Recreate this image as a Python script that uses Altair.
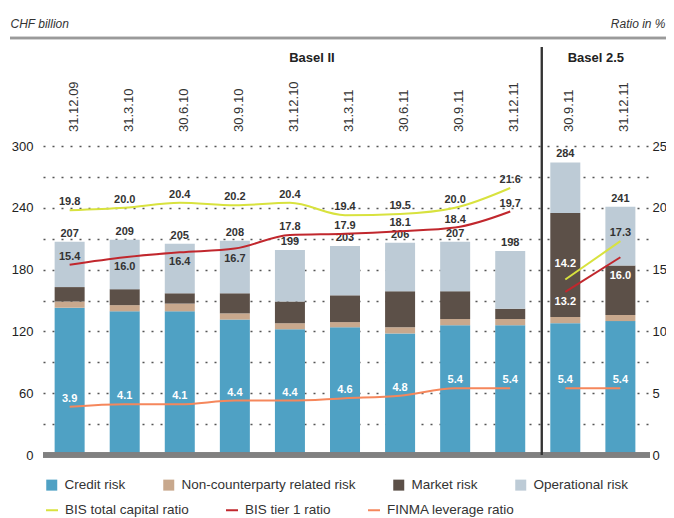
import altair as alt
import pandas as pd

# ---------------- data ----------------
periods = ["31.12.09", "31.3.10", "30.6.10", "30.9.10", "31.12.10", "31.3.11",
           "30.6.11", "30.9.11", "31.12.11", "30.9.11", "31.12.11"]
regimes = ["Basel II"] * 9 + ["Basel 2.5"] * 2

credit_risk = [143, 139.5, 139.5, 131.5, 122, 124, 118, 126, 126, 128, 130]
noncounterparty_risk = [6, 6, 7.5, 6, 6, 5, 6, 6, 6, 6, 6]
market_risk = [14, 15.5, 10, 19.5, 21, 26, 35, 27, 10, 101, 48]
operational_risk = [44, 48, 48, 51, 50, 48, 47, 48, 56, 49, 57]
rwa_totals = [207, 209, 205, 208, 199, 203, 206, 207, 198, 284, 241]

bis_total_ratio = [19.8, 20.0, 20.4, 20.2, 20.4, 19.4, 19.5, 20.0, 21.6, 14.2, 17.3]
bis_tier1_ratio = [15.4, 16.0, 16.4, 16.7, 17.8, 17.9, 18.1, 18.4, 19.7, 13.2, 16.0]
finma_leverage_ratio = [3.9, 4.1, 4.1, 4.4, 4.4, 4.6, 4.8, 5.4, 5.4, 5.4, 5.4]

risk_names = ["Credit risk", "Non-counterparty related risk", "Market risk", "Operational risk"]
ratio_names = ["BIS total capital ratio", "BIS tier 1 ratio", "FINMA leverage ratio"]

left_ticks = list(range(0, 301, 30))
right_ticks = [0, 5, 10, 15, 20, 25]

# label placement / tone (presentation)
total_label_side = ["above"] * 9 + ["above_far", "above"]
total_label_tone = ["dark"] * 9 + ["light", "dark"]
tier1_label_side = ["above", "below", "below", "below", "above", "above", "above",
                    "above", "above", "below", "below_far"]
tier1_label_tone = ["dark"] * 9 + ["light", "light"]
finma_label_side = ["above"] * 11
finma_label_tone = ["light"] * 11

# ---------------- styles ----------------
risk_colors = ["#4fa1c4", "#c8a88d", "#5c5048", "#bdcbd6"]
ratio_colors = ["#d8e23e", "#c1272d", "#f5875c"]
FONT = "Liberation Sans"
TXT = "#333333"
DY = {"above": -8, "below": 10, "above_far": -15, "below_far": 19}

W, H = 605, 408
PAD = {"left": 35, "top": 39, "right": 18, "bottom": 63}
n = len(periods)
idx = list(range(n))
step = 56.0
x_scale = alt.Scale(domain=[-22 / step, (n - 1) + 23 / step], nice=False, zero=False)
top_chf = H * 300 / 309.0
y_left = alt.Scale(domain=[0, top_chf], nice=False, zero=True)
y_right = alt.Scale(domain=[0, top_chf / 12.0], nice=False, zero=True)

AX_LEFT = alt.Axis(orient="left", values=left_ticks,
                   labelExpr="datum.value % 60 == 0 ? datum.label : ''",
                   grid=True, gridDash=[2, 7], gridColor="#555555", gridWidth=1.5,
                   ticks=False, domain=False, labelPadding=10,
                   labelFont=FONT, labelFontSize=13, labelColor="#222222",
                   title="CHF billion", titleAngle=0, titleAlign="left",
                   titleBaseline="alphabetic", titleX=-33, titleY=-20,
                   titleFont=FONT, titleFontStyle="italic", titleFontWeight="normal",
                   titleFontSize=12, titleColor=TXT)
AX_RIGHT = alt.Axis(orient="right", values=right_ticks, grid=False,
                    ticks=False, domain=False, labelPadding=4,
                    labelFont=FONT, labelFontSize=13, labelColor="#222222",
                    title="Ratio in %", titleAngle=0, titleAlign="right",
                    titleBaseline="alphabetic", titleX=17, titleY=-20,
                    titleFont=FONT, titleFontStyle="italic", titleFontWeight="normal",
                    titleFontSize=12, titleColor=TXT)

# ---------------- tables ----------------
bar_rows = []
for i in idx:
    for k, vals in enumerate([credit_risk, noncounterparty_risk, market_risk, operational_risk]):
        bar_rows.append({"idx": i, "risk": risk_names[k], "ord": k, "value": vals[i]})
bars_df = pd.DataFrame(bar_rows)
totals_df = pd.DataFrame({"idx": idx, "total": rwa_totals})
dates_df = pd.DataFrame({"idx": idx, "period": periods})

ratio_rows = []
for name, vals, sides, tones in zip(
        ratio_names,
        [bis_total_ratio, bis_tier1_ratio, finma_leverage_ratio],
        [total_label_side, tier1_label_side, finma_label_side],
        [total_label_tone, tier1_label_tone, finma_label_tone]):
    for i in idx:
        ratio_rows.append({"idx": i, "series": name, "ratio": vals[i], "regime": regimes[i],
                           "side": sides[i], "tone": tones[i], "label": f"{vals[i]:.1f}"})
ratio_df = pd.DataFrame(ratio_rows)

n_b2 = regimes.count("Basel II")
header_df = pd.DataFrame({
    "regime": ["Basel II", "Basel 2.5"],
    "idx": [sum(range(n_b2)) / n_b2, sum(range(n_b2, n)) / (n - n_b2)],
})

X = alt.X("idx:Q", scale=x_scale, axis=None)
LEG = dict(title=None, orient="none", legendX=2, direction="horizontal",
           labelFont=FONT, labelFontSize=13.5, labelColor=TXT, labelLimit=400,
           labelOffset=6, padding=0)

# ---------------- left (CHF) layers ----------------
bars = alt.Chart(bars_df).mark_bar(size=30).encode(
    x=X,
    y=alt.Y("value:Q", stack="zero", scale=y_left, axis=AX_LEFT),
    fill=alt.Fill("risk:N", scale=alt.Scale(domain=risk_names, range=risk_colors),
                  legend=alt.Legend(legendY=431, symbolType="square", symbolSize=121,
                                    symbolStrokeWidth=0, columnPadding=36, **LEG)),
    order=alt.Order("ord:Q"),
)

totals = alt.Chart(totals_df).mark_text(
    dy=-8, font=FONT, fontSize=11, fontWeight="bold", color=TXT, baseline="middle"
).encode(x=X, y=alt.Y("total:Q", scale=y_left, axis=AX_LEFT), text="total:Q")

baseline = alt.Chart(totals_df).mark_rule(color="#808080", strokeWidth=4.5).encode(
    x=alt.value(0), x2=alt.value(W + 2), y=alt.YDatum(0, scale=y_left, axis=AX_LEFT))

divider = alt.Chart(header_df).mark_rule(color="#333333", strokeWidth=2, xOffset=4).encode(
    x=alt.XDatum(n_b2 - 0.5, scale=x_scale, axis=None), y=alt.value(0), y2=alt.value(H))

top_rule = alt.Chart(header_df).mark_rule(color="#9a9a9a", strokeWidth=2.5).encode(
    x=alt.value(-33), x2=alt.value(W + PAD["right"]), y=alt.value(-9))

headers_b2 = alt.Chart(header_df).transform_filter(alt.datum.regime == "Basel II").mark_text(
    font=FONT, fontSize=13, fontWeight="bold", color="#222222", baseline="alphabetic", dx=22
).encode(x=X, y=alt.value(15), text="regime:N")
headers_b25 = alt.Chart(header_df).transform_filter(alt.datum.regime == "Basel 2.5").mark_text(
    font=FONT, fontSize=13, fontWeight="bold", color="#222222", baseline="alphabetic", dx=3
).encode(x=X, y=alt.value(15), text="regime:N")

dates = alt.Chart(dates_df).mark_text(
    angle=270, align="left", baseline="middle", dy=4, font=FONT, fontSize=13, color=TXT
).encode(x=X, y=alt.value(85), text="period:N")

left = alt.layer(bars, baseline, totals, divider, top_rule, headers_b2, headers_b25, dates)

# ---------------- right (ratio) layers ----------------
lines = alt.Chart(ratio_df).mark_line(strokeWidth=2, interpolate="monotone").encode(
    x=X,
    y=alt.Y("ratio:Q", scale=y_right, axis=AX_RIGHT),
    stroke=alt.Stroke("series:N", scale=alt.Scale(domain=ratio_names, range=ratio_colors),
                      legend=alt.Legend(legendY=456, symbolType="stroke", symbolSize=144,
                                        symbolStrokeWidth=2, columnPadding=33, **LEG)),
    detail="regime:N",
)

label_layers = []
for side, dy in DY.items():
    label_layers.append(
        alt.Chart(ratio_df).transform_filter(alt.datum.side == side).mark_text(
            dy=dy, font=FONT, fontSize=11, fontWeight="bold", baseline="middle"
        ).encode(
            x=X,
            y=alt.Y("ratio:Q", scale=y_right, axis=AX_RIGHT),
            text="label:N",
            color=alt.condition(alt.datum.tone == "light", alt.value("white"), alt.value(TXT)),
        )
    )

right = alt.layer(lines, *label_layers)

chart = alt.layer(left, right).resolve_scale(y="independent").properties(
    width=W, height=H,
    padding=PAD,
    autosize=alt.AutoSizeParams(type="none"),
    background="white",
).configure_view(stroke=None)

chart.save("out.html", embed_options={"renderer": "svg", "actions": False})
